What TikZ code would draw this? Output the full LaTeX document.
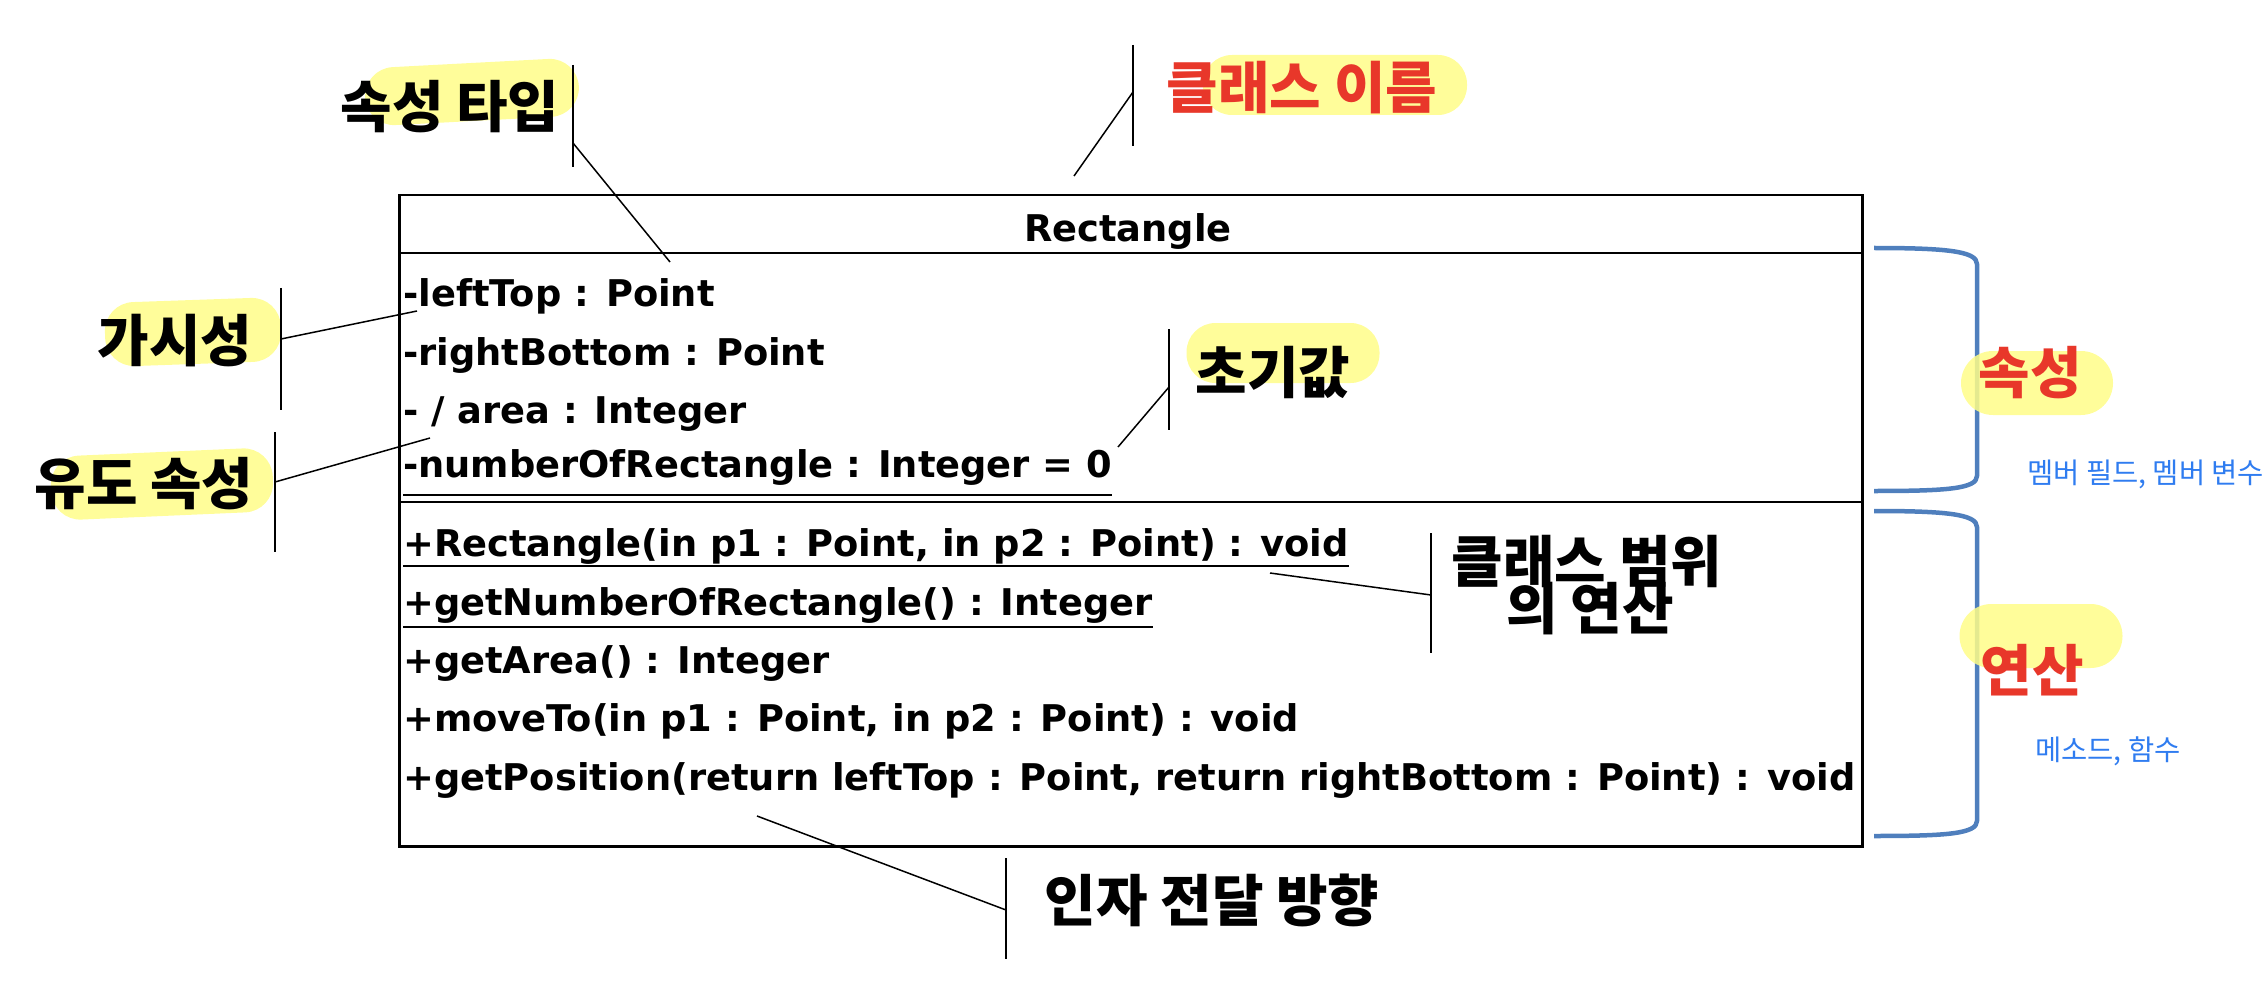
\documentclass[tikz,border=0pt]{standalone}
\usepackage{fontspec}
\usetikzlibrary{calc}
\newfontfamily\umlfont{DejaVu Sans}
\newfontfamily\krfont{Noto Sans CJK KR}
\definecolor{hlyellow}{HTML}{FFFD88}
\definecolor{krred}{HTML}{E8372A}
\definecolor{noteblue}{HTML}{2F7CF0}
\definecolor{braceblue}{HTML}{4F7FBD}
\tikzset{
  umltext/.style={anchor=base west, inner sep=0pt, font=\umlfont\bfseries\fontsize{36.8}{36.8}\selectfont},
  klabel/.style={inner sep=0pt, font=\krfont\bfseries\fontsize{56}{56}\selectfont},
  rlabel/.style={klabel, text=krred},
  bnote/.style={inner sep=0pt, text=noteblue, font=\krfont\fontsize{28.5}{28.5}\selectfont},
  hl/.style={fill=hlyellow, fill opacity=0.85, draw=none, inner sep=0pt, rounded corners=29pt},
  leader/.style={line width=1.5pt, black},
  boxline/.style={line width=2.5pt, black},
  uline/.style={line width=2pt, black},
  bracket/.style={line width=4.5pt, braceblue, line cap=butt, line join=round}
}
\begin{document}
\begin{tikzpicture}[x=1pt,y=-1pt]
\useasboundingbox (0,0) rectangle (2262,1000);

% class box
\node[boxline, draw, minimum width=1463pt, minimum height=651pt, anchor=north west, inner sep=0pt] (box) at (398,194) {};
\coordinate (d1) at (398,253);
\coordinate (d2) at (398,502);
\draw[boxline] (d1) -- (d1 -| box.east);
\draw[boxline] (d2) -- (d2 -| box.east);

% right brackets
\coordinate (ua) at (1874,248);
\coordinate (ub) at (1874,491);
\coordinate (la) at (1874,511);
\coordinate (lb) at (1874,836);
\draw[bracket] (ua) .. controls (1945,248) and (1977,251) .. (1977,264) -- (1977,476) .. controls (1977,489) and (1945,491) .. (ub);
\draw[bracket] (la) .. controls (1945,511) and (1977,514) .. (1977,527) -- (1977,821) .. controls (1977,834) and (1945,836) .. (lb);

% highlights
\node[hl, minimum width=214pt, minimum height=58pt, rotate=3] (h1) at (472,92) {};
\node[hl, minimum width=264pt, minimum height=60pt] (h2) at (1335,85) {};
\node[hl, minimum width=176pt, minimum height=64pt, rotate=2] (h3) at (193,332) {};
\node[hl, minimum width=222pt, minimum height=64pt, rotate=2.5] (h4) at (162,484) {};
\node[hl, minimum width=193pt, minimum height=60pt] (h5) at (1283,353) {};
\node[hl, minimum width=152pt, minimum height=64pt, rounded corners=32pt] (h6) at (2037,383) {};
\node[hl, minimum width=163pt, minimum height=64pt, rounded corners=32pt] (h7) at (2041,636) {};

% class texts
\node[umltext, anchor=base] (title) at (1128,242) {Rectangle};
\node[umltext] (a1) at (403,307) {-leftTop : Point};
\node[umltext] (a2) at (403,365) {-rightBottom : Point};
\node[umltext] (a3) at (403,423) {- / area : Integer};
\node[umltext] (a4) at (403,477) {-numberOfRectangle : Integer = 0};
\node[umltext] (o1) at (403,556) {+Rectangle(in p1 : Point, in p2 : Point) : void};
\node[umltext] (o2) at (403,615) {+getNumberOfRectangle() : Integer};
\node[umltext] (o3) at (403,673) {+getArea() : Integer};
\node[umltext] (o4) at (403,731) {+moveTo(in p1 : Point, in p2 : Point) : void};
\node[umltext] (o5) at (403,790) {+getPosition(return leftTop : Point, return rightBottom : Point) : void};
\draw[uline] ($(a4.base west)+(0,18)$) -- ($(a4.base east)+(0,18)$);
\draw[uline] ($(o1.base west)+(0,10)$) -- ($(o1.base east)+(0,10)$);
\draw[uline] ($(o2.base west)+(0,12)$) -- ($(o2.base east)+(0,12)$);

% labels
\node[klabel] (l1) at (450,107) {속성 타입};
\node[rlabel] (l2) at (1302,88) {클래스 이름};
\node[klabel] (l3) at (175,341) {가시성};
\node[klabel] (l4) at (144,484) {유도 속성};
\node[klabel] (l5) at (1273,372) {초기값};
\node[klabel] (l6a) at (1587,561) {클래스 범위};
\node[klabel] (l6b) at (1590,609) {의 연산};
\node[klabel] (l7) at (1212,900) {인자 전달 방향};
\node[rlabel] (l8) at (2030,373) {속성};
\node[rlabel] (l9) at (2032,670) {연산};
\node[bnote, anchor=west] (n1) at (2027,474) {멤버 필드, 멤버 변수};
\node[bnote, anchor=west] (n2) at (2035,751) {메소드, 함수};

% leader bars and connectors
\coordinate (b1t) at (573,65);  \coordinate (b1b) at (573,167); \coordinate (b1m) at (573,143); \coordinate (e1) at (670,262);
\coordinate (b2t) at (1133,45); \coordinate (b2b) at (1133,146); \coordinate (b2m) at (1133,92); \coordinate (e2) at (1074,176);
\coordinate (b3t) at (281,288); \coordinate (b3b) at (281,410); \coordinate (b3m) at (281,339); \coordinate (e3) at (417,311);
\coordinate (b4t) at (275,432); \coordinate (b4b) at (275,552); \coordinate (b4m) at (275,482); \coordinate (e4) at (430,438);
\coordinate (b5t) at (1169,329); \coordinate (b5b) at (1169,430); \coordinate (b5m) at (1169,387); \coordinate (e5) at (1118,447);
\coordinate (b6t) at (1431,533); \coordinate (b6b) at (1431,653); \coordinate (b6m) at (1431,595); \coordinate (e6) at (1270,573);
\coordinate (b7t) at (1006,858); \coordinate (b7b) at (1006,959); \coordinate (b7m) at (1006,910); \coordinate (e7) at (757,816);
\foreach \i in {1,...,7} {
  \draw[leader] (b\i t) -- (b\i b);
  \draw[leader] (b\i m) -- (e\i);
}
\end{tikzpicture}
\end{document}
